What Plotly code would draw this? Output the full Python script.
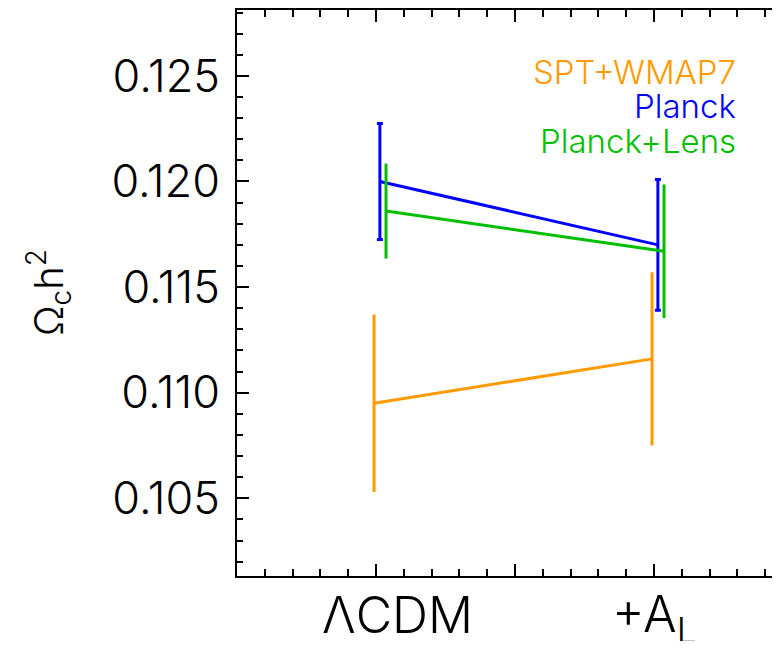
import plotly.graph_objects as go

# ---- data ----
models = ["ΛCDM", "+A<sub>L</sub>"]
model_pos = [1.0, 2.0]

series_names = ["SPT+WMAP7", "Planck", "Planck+Lens"]
series_colors = ["#FF9A00", "#0000FF", "#00BF00"]
series_offsets = [-0.007, 0.014, 0.036]
omch2 = {
    "SPT+WMAP7": [0.1095, 0.1116],
    "Planck": [0.1200, 0.1170],
    "Planck+Lens": [0.1186, 0.1167],
}
omch2_err = {
    "SPT+WMAP7": [0.0042, 0.0041],
    "Planck": [0.00275, 0.0031],
    "Planck+Lens": [0.00225, 0.00316],
}
cap_widths = [0, 3, 0]

ytick_vals = [0.105, 0.110, 0.115, 0.120, 0.125]
ytick_text = ["0.105", "0.110", "0.115", "0.120", "0.125"]

# ---- layout geometry (page body has an 8px margin on every side) ----
OFF = 8
W, H = 780 - 2 * OFF, 649 - 2 * OFF
L, R, T, B = 237 - OFF, 0, 10 - OFF, 649 - OFF - 576
pw, ph = W - L - R, H - T - B
PX_PER_UNIT = 278.0
x_right = 1.0 + (OFF + W - R - 376) / PX_PER_UNIT


def xp(px):
    return (px - OFF - L) / pw


def yp(py):
    return (H - B - (py - OFF)) / ph


fig = go.Figure()
for name, col, off, cw in zip(series_names, series_colors, series_offsets, cap_widths):
    fig.add_trace(go.Scatter(
        x=[p + off for p in model_pos],
        y=omch2[name],
        mode="lines",
        line=dict(color=col, width=3),
        error_y=dict(type="data", array=omch2_err[name], color=col,
                     thickness=3, width=cw),
        showlegend=False,
        hoverinfo="skip",
        cliponaxis=False,
    ))

font_main = "Inter, Lato, Liberation Sans, Arial, sans-serif"
FW = 300

# legend-like coloured labels
label_y = [72, 106, 141]
for name, col, ly in zip(series_names, series_colors, label_y):
    fig.add_annotation(text=name, xref="paper", yref="paper",
                       x=xp(738), y=yp(ly), xanchor="right", yanchor="middle",
                       showarrow=False,
                       font=dict(family=font_main, size=33, color=col, weight=FW))

# category labels under the x axis
xshifts = [21, 0]
label_cy = [615, 617]
for m, pos, xs, cy in zip(models, model_pos, xshifts, label_cy):
    fig.add_annotation(text=m, xref="x", yref="paper", x=pos, y=yp(cy),
                       xanchor="center", yanchor="middle", xshift=xs,
                       showarrow=False,
                       font=dict(family=font_main, size=50, color="black", weight=FW))

# y-axis title
fig.add_annotation(text="Ω<sub>c</sub>h<sup>2</sup>", xref="paper", yref="paper",
                   x=xp(48), y=yp(293), xanchor="center", yanchor="middle",
                   textangle=-90, showarrow=False,
                   font=dict(family=font_main, size=40, color="black", weight=FW))

fig.update_xaxes(
    range=[0.5, x_right],
    tickvals=[0.5, 1.0, 1.5, 2.0, 2.5],
    showticklabels=False,
    ticks="inside", ticklen=12, tickwidth=2, tickcolor="black",
    minor=dict(dtick=0.1, tick0=0.5, ticks="inside", ticklen=7,
               tickwidth=2, tickcolor="black"),
    showline=True, linewidth=2, linecolor="black", mirror="ticks",
    showgrid=False, zeroline=False, automargin=False,
)
fig.update_yaxes(
    range=[0.10132, 0.12812],
    tickvals=ytick_vals, ticktext=ytick_text,
    ticks="inside", ticklen=12, tickwidth=2, tickcolor="black",
    minor=dict(dtick=0.001, tick0=0.1, ticks="inside", ticklen=6,
               tickwidth=2, tickcolor="black"),
    showline=True, linewidth=2, linecolor="black", mirror=False,
    showgrid=False, zeroline=False, automargin=False,
    tickfont=dict(family=font_main, size=45, color="black", weight=FW),
    ticklabelstandoff=6,
)
fig.update_layout(
    width=W, height=H,
    margin=dict(l=L, r=R, t=T, b=B, pad=0, autoexpand=False),
    plot_bgcolor="white", paper_bgcolor="white",
)
fig.write_html("out.html")
